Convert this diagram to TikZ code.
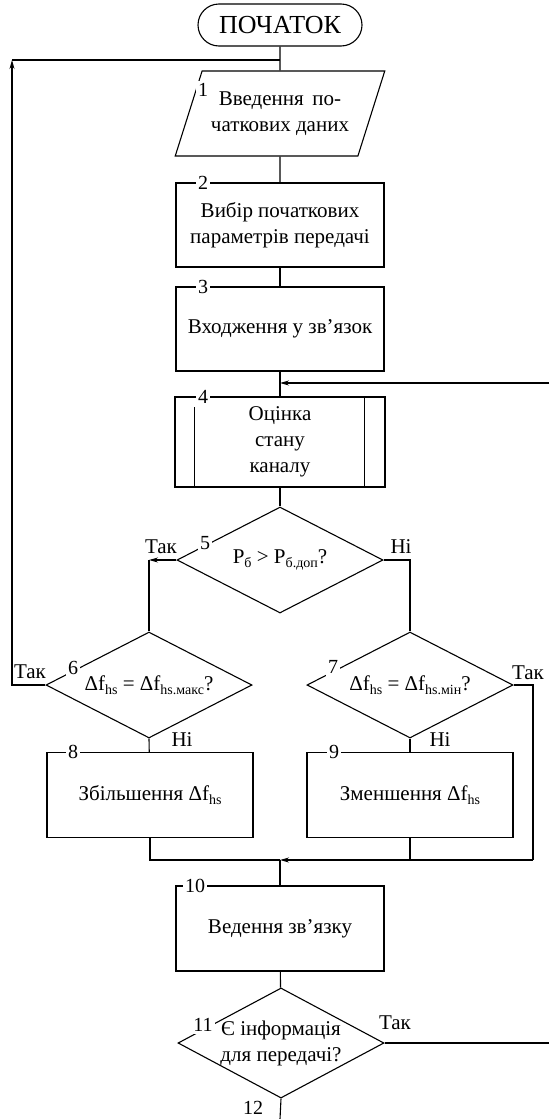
\documentclass[tikz,border=0pt]{standalone}
\usepackage{fontspec}
\setmainfont{Liberation Serif}
\usetikzlibrary{shapes.geometric,arrows.meta}
\newcommand{\ix}[1]{\raisebox{-3.5pt}{\fontsize{14}{14}\selectfont #1}}
\tikzstyle{term}=[rectangle,rounded corners=21pt,draw=black,minimum width=164pt,minimum height=42pt,
  font=\fontsize{26}{26}\selectfont]
\tikzstyle{io}=[trapezium,trapezium left angle=63.7,trapezium right angle=116.3,
  trapezium stretches=true,draw=black,minimum width=210pt,minimum height=85pt,align=center]
\tikzstyle{blk}=[rectangle,draw=black,minimum width=208pt,minimum height=84pt,align=center]
\tikzstyle{dec}=[diamond,draw=black,minimum width=206pt,minimum height=106pt,inner sep=-14pt,align=center]
\tikzstyle{num}=[fill=white,inner sep=2pt,font=\fontsize{20}{20}\selectfont]
\tikzstyle{lbl}=[inner sep=0pt]
\tikzstyle{arr}=[-{Stealth[length=9pt,width=5pt]}]

\begin{document}
\begin{tikzpicture}[x=1pt,y=-1pt,line width=1.1pt,every node/.style={font=\fontsize{21}{26}\selectfont}]
    \useasboundingbox (0,0) rectangle (549,1119);
            \node [style=term] (0) at (280,25) {ПОЧАТОК};
            \node [style=io] (1) at (280,113.5) {Введення \,по-\\чаткових даних};
            \node [style=blk] (2) at (280,225) {Вибір початкових\\параметрів передачі};
            \node [style=blk] (3) at (280,329) {Входження у зв’язок};
            \node [style=blk,minimum width=210pt,minimum height=90pt] (4) at (280,442) {Оцінка\\стану\\каналу};
            \node [style=dec] (5) at (280,560) {P\ix{б} > P\ix{б.доп}?};
            \node [style=dec] (6) at (149,685) {Δf\ix{hs} = Δf\ix{hs.макс}?};
            \node [style=dec] (7) at (410,685) {Δf\ix{hs} = Δf\ix{hs.мін}?};
            \node [style=blk,minimum width=206pt,minimum height=85pt] (8) at (150,795) {Збільшення Δf\ix{hs}};
            \node [style=blk,minimum width=206pt,minimum height=85pt] (9) at (410,795) {Зменшення Δf\ix{hs}};
            \node [style=blk,minimum height=85pt] (10) at (280,928.5) {Ведення зв’язку};
            \node [style=dec] (11) at (281,1043) {Є інформація\\для передачі?};
            % inner lines of block 4
            \draw ([xshift=20pt,yshift=-11pt]4.north west) -- ([xshift=20pt]4.south west);
            \draw ([xshift=-21pt]4.north east) -- ([xshift=-21pt]4.south east);
            % points on the lines
            \coordinate (top) at (280,60);
            \coordinate (loop) at (12,60);
            \coordinate (in1) at (549,383);
            \coordinate (j1) at (280,383);
            \coordinate (l5) at (149,560);
            \coordinate (r7) at (533,860);
            \coordinate (j2) at (280,860);
            \coordinate (out) at (549,1043);
            \coordinate (end) at (280,1119);
            \draw (0) to (1);
            \draw (1) to (2);
            \draw (2) to (3);
            \draw (3) to (4);
            \draw [style=arr] (in1) to (j1);
            \draw (4) to (5);
            \draw [style=arr] (5.west) to (l5);
            \draw (l5) to (6.north);
            \draw (5.east) -| (7.north);
            \draw (6.south) to (8);
            \draw (7.south) to (9);
            \draw [style=arr] (6.west) -| (loop);
            \draw (loop) to (top);
            \draw (7.east) -| (r7);
            \draw [style=arr] (r7) to (j2);
            \draw (8.south) |- (j2);
            \draw (9.south) to (9.south |- j2);
            \draw (j2) to (10);
            \draw (10) to (11);
            \draw (11.east) to (out);
            \draw (11.south) to (end);
            % numbers
            \node [style=num] (n1) at (203,90) {1};
            \node [style=num] (n2) at (203,183) {2};
            \node [style=num] (n3) at (203,287) {3};
            \node [style=num] (n4) at (203,397) {4};
            \node [style=num] (n5) at (205,543) {5};
            \node [style=num] (n6) at (73,668) {6};
            \node [style=num] (n7) at (333,667) {7};
            \node [style=num] (n8) at (73,752) {8};
            \node [style=num] (n9) at (334,752) {9};
            \node [style=num] (n10) at (195,886) {10};
            \node [style=num] (n11) at (203,1025) {11};
            \node [style=num] (n12) at (253,1108) {12};
            % branch labels
            \node [style=lbl] (t5) at (161,547) {Так};
            \node [style=lbl] (h5) at (401,547) {Ні};
            \node [style=lbl] (t6) at (30,672) {Так};
            \node [style=lbl] (h6) at (182,740) {Ні};
            \node [style=lbl] (t7) at (528,673) {Так};
            \node [style=lbl] (h7) at (440,740) {Ні};
            \node [style=lbl] (t11) at (395,1023) {Так};
    \end{tikzpicture}
\end{document}
